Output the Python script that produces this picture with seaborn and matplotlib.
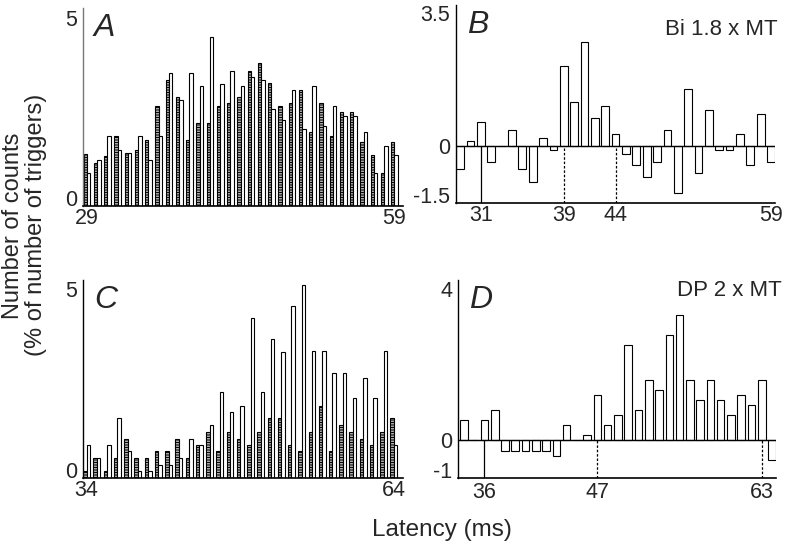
import numpy as np
import pandas as pd
import matplotlib
matplotlib.use('Agg')
import matplotlib.pyplot as plt
import seaborn as sns

# A: paired histograms (dotted / open), latency 29-59 ms
lat_a = list(range(29, 60))
a_dotted = [1.39, 1.14, 1.32, 1.85, 1.41, 1.48, 1.76, 2.65, 3.35, 2.91, 1.76, 2.20, 2.20, 2.65, 2.73, 2.91,
            3.60, 3.81, 3.27, 2.65, 2.73, 3.09, 1.96, 2.73, 1.85, 2.49, 2.49, 1.69, 1.34, 0.88, 1.69]
a_open = [0.88, 1.23, 1.85, 1.48, 1.41, 1.85, 1.23, 1.85, 3.53, 2.82, 3.53, 3.18, 4.49, 3.25, 3.60, 3.18,
          3.44, 3.35, 2.58, 2.29, 3.09, 2.04, 3.18, 2.13, 2.65, 2.38, 2.38, 1.96, 0.88, 1.60, 1.34]

# B: difference histogram, Bi 1.8 x MT
lat_b = list(range(29, 60))
b_diff = [-0.62, 0.11, 0.61, -0.43, 0.0, 0.42, -0.62, -0.95, 0.20, -0.11, 2.10, 1.14, 2.73, 0.74, 1.04, 0.31,
          -0.22, -0.52, -0.83, -0.43, 0.42, -1.24, 1.49, -0.73, 0.95, -0.11, -0.11, 0.32, -0.52, 0.84, -0.43]

# C: paired histograms, latency 34-64 ms
lat_c = list(range(34, 65))
c_dotted = [0.18, 0.53, 0.18, 0.53, 1.04, 0.53, 0.53, 0.71, 0.71, 1.04, 0.53, 0.88, 1.23, 0.71, 1.23, 1.04,
            0.88, 1.23, 1.59, 1.59, 0.88, 0.71, 1.23, 1.92, 0.71, 1.41, 1.23, 1.04, 0.88, 1.23, 1.59]
c_open = [0.88, 0.53, 0.88, 1.59, 0.71, 0.18, 0.18, 0.35, 0.35, 0.53, 1.04, 0.88, 1.41, 2.28, 1.75, 1.92,
          4.23, 2.28, 3.68, 3.34, 4.56, 5.11, 3.37, 3.37, 2.80, 2.80, 2.12, 2.65, 2.12, 3.37, 0.88]

# D: difference histogram, DP 2 x MT
lat_d = list(range(34, 65))
d_diff = [0.53, 0.0, 0.53, 0.81, -0.28, -0.28, -0.28, -0.28, -0.28, -0.40, 0.40, 0.0, 0.13, 1.19, 0.40, 0.68,
          2.52, 0.81, 1.58, 1.32, 2.77, 3.30, 1.58, 1.06, 1.58, 1.06, 0.68, 1.19, 0.92, 1.58, -0.51]

sns.set_style('white')
plt.rcParams['font.family'] = ['Liberation Sans', 'DejaVu Sans']
plt.rcParams['hatch.color'] = 'black'
plt.rcParams['hatch.linewidth'] = 0.7

fig = plt.figure(figsize=(7.98, 5.43), dpi=100)
ax_a = fig.add_axes([0.1036, 0.6212, 0.4014, 0.3641])
ax_b = fig.add_axes([0.5714, 0.6267, 0.4000, 0.3641])
ax_c = fig.add_axes([0.1036, 0.1192, 0.4014, 0.3652])
ax_d = fig.add_axes([0.5736, 0.1192, 0.3990, 0.3652])

TICK = 15.5


def paired(ax, lat, dotted, opened, xlim, ylim, xticks):
    df = pd.DataFrame({'lat': lat * 2, 'val': dotted + opened,
                       'kind': ['dotted'] * len(lat) + ['open'] * len(lat)})
    sns.barplot(data=df, x='lat', y='val', hue='kind', hue_order=['dotted', 'open'],
                palette={'dotted': 'white', 'open': 'white'}, native_scale=True, dodge=True,
                width=0.67, edgecolor='black', linewidth=0.8, errorbar=None, legend=False, ax=ax)
    for bar in ax.containers[0]:
        bar.set_hatch('-' * 10)
    ax.set_xlim(*xlim)
    ax.set_ylim(*ylim)
    ax.set_xticks(xticks)
    ax.set_xticklabels([str(t) for t in xticks])
    ax.set_yticks([0, 5])
    ax.set_yticklabels(['0', '5'])


def diff(ax, lat, vals, xlim, ylim, xticks, yticks, ylabels, solid, dashed):
    df = pd.DataFrame({'lat': lat, 'val': vals})
    sns.barplot(data=df, x='lat', y='val', native_scale=True, width=0.74, color='white',
                edgecolor='black', linewidth=0.8, errorbar=None, ax=ax)
    ax.axhline(0, color='black', lw=1.0)
    ax.vlines(solid, ylim[0], 0, color='black', lw=0.9)
    ax.vlines(dashed, ylim[0], 0, color='black', lw=0.9, linestyles=(0, (2, 1.5)))
    ax.set_xlim(*xlim)
    ax.set_ylim(*ylim)
    ax.set_xticks(xticks)
    ax.set_xticklabels([str(t) for t in xticks])
    ax.set_yticks(yticks)
    ax.set_yticklabels(ylabels)


paired(ax_a, lat_a, a_dotted, a_open, (28.58, 59.83), (0, 5.27), [29, 59])
diff(ax_b, lat_b, b_diff, (28.6, 59.4), (-1.5, 3.7), [31, 39, 44, 59],
     [-1.5, 0, 3.5], ['-1.5', '0', '3.5'], [31], [39, 44])
paired(ax_c, lat_c, c_dotted, c_open, (33.61, 64.89), (0, 5.25), [34, 64])
diff(ax_d, lat_d, d_diff, (33.4, 64.4), (-1, 4.23), [36, 47, 63],
     [-1, 0, 4], ['-1', '0', '4'], [36], [47, 63])

for ax, letter in zip([ax_a, ax_b, ax_c, ax_d], 'ABCD'):
    sns.despine(ax=ax)
    ax.spines['left'].set_linewidth(1.0)
    ax.spines['bottom'].set_linewidth(1.2)
    ax.spines['left'].set_color('black')
    ax.spines['bottom'].set_color('black')
    ax.set_xlabel('')
    ax.set_ylabel('')
    ax.tick_params(axis='x', length=0, pad=1.5, labelsize=TICK)
    ax.tick_params(axis='y', length=0, pad=4, labelsize=TICK)
    # lowest y label sits on the bottom axis line, as in the figure
    ax.get_yticklabels()[0].set_va('baseline')
    ax.text(0.035, 0.975, letter, transform=ax.transAxes, fontsize=23, style='italic',
            ha='left', va='top')
ax_a.spines['left'].set_color('#777777')
ax_d.tick_params(axis='x', pad=3)

fig.text(0.975, 0.965, 'Bi 1.8 x MT', fontsize=16, ha='right', va='top')
fig.text(0.98, 0.484, 'DP 2 x MT', fontsize=16, ha='right', va='top')
fig.text(0.031, 0.585, 'Number of counts\n(% of number of triggers)', fontsize=17, rotation=90,
         ha='center', va='center', multialignment='center', linespacing=1.05)
fig.text(0.554, 0.024, 'Latency (ms)', fontsize=17.5, ha='center', va='center')

fig.savefig('out.png', dpi=100)
